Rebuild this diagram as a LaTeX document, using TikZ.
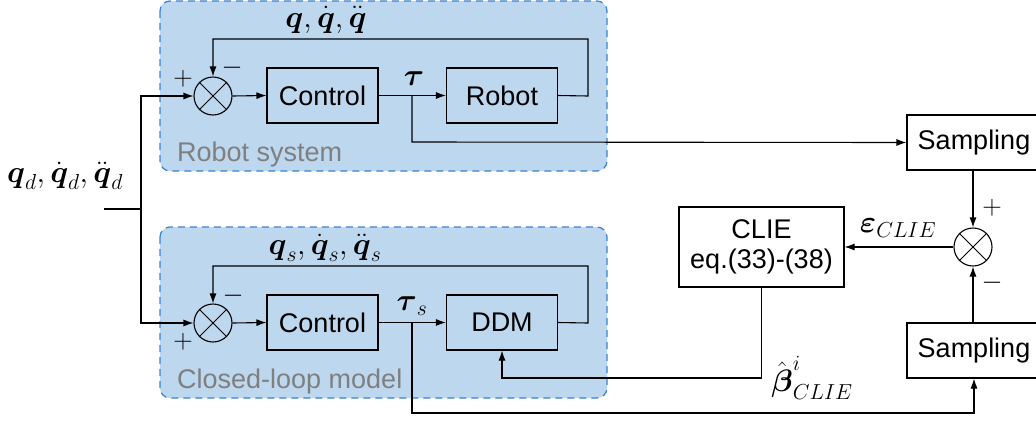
\RequirePackage{fix-cm}
\documentclass[tikz,border=0pt]{standalone}
\usepackage{amsmath}
\usepackage{fontspec}
\setsansfont{Liberation Sans}
\usetikzlibrary{arrows.meta}
\definecolor{panelfill}{HTML}{BDD7EE}
\definecolor{paneledge}{HTML}{3A82D0}
\definecolor{paneltext}{HTML}{7F7F7F}
\tikzset{
  every node/.style={font=\sffamily\fontsize{27}{32}\selectfont},
  panel/.style={draw=paneledge, fill=panelfill, dashed, dash pattern=on 7pt off 5pt, line width=1.2pt, rounded corners=10pt},
  block/.style={draw, line width=1.1pt, minimum width=111pt, minimum height=55pt, inner sep=0pt},
  sumjunc/.style={draw, circle, line width=1.1pt, minimum size=38pt, inner sep=0pt},
  wire/.style={line width=1.1pt},
  arr/.style={wire, -{Latex[length=10pt,width=7pt]}},
  sign/.style={inner sep=0pt},
  lbl/.style={inner sep=0pt, font=\fontsize{31}{36}\selectfont},
}
\newcommand{\xcross}[1]{\draw[line width=1pt] (#1.north east) -- (#1.south west) (#1.north west) -- (#1.south east);}
\begin{document}
\begin{tikzpicture}[x=1pt,y=-1pt]
\useasboundingbox (0,0) rectangle (1036,421);

% shaded panels
\draw[panel] (160,1) rectangle (607,171);
\draw[panel] (160,227) rectangle (607,398);
\node[inner sep=0pt, anchor=base west, text=paneltext] (ptitle1) at (177,161) {Robot system};
\node[inner sep=0pt, anchor=base west, text=paneltext] (ptitle2) at (177,388) {Closed-loop model};

% robot system loop
\node[sumjunc] (s1) at (213,96) {};
\xcross{s1}
\node[block] (ctrl1) at (322.5,95.5) {Control};
\node[block] (robot) at (502,95.5) {Robot};

% closed-loop model
\node[sumjunc] (s2) at (213,323) {};
\xcross{s2}
\node[block] (ctrl2) at (322.5,322.5) {Control};
\node[block] (ddm) at (502,322.5) {DDM};

% identification side
\node[block, minimum width=134pt] (samp1) at (974,142.5) {Sampling};
\node[block, minimum width=134pt] (samp2) at (974,350.5) {Sampling};
\node[sumjunc] (s3) at (973,247) {};
\xcross{s3}
\node[block, minimum width=165pt, minimum height=80pt, align=center] (clie) at (761.5,247) {CLIE\\[-2pt]eq.(33)-(38)};

% reference input
\coordinate (din) at (104,209);
\coordinate (split) at (141,209);
\draw[wire] (din) -- (split);
\draw[arr] (split) |- (s1.west);
\draw[arr] (split) |- (s2.west);
\node[lbl] (qd) at (65,176) {$\boldsymbol{q}_d,\dot{\boldsymbol{q}}_d,\ddot{\boldsymbol{q}}_d$};

% upper loop wiring
\draw[arr] (s1.east) -- (ctrl1.west);
\draw[arr] (ctrl1.east) -- (robot.west);
\coordinate (fb1a) at (588,96);
\coordinate (fb1b) at (588,39);
\draw[arr] (robot.east) -- (fb1a) -- (fb1b) -| (s1.north);
\node[lbl] (q) at (326,20) {$\boldsymbol{q},\dot{\boldsymbol{q}},\ddot{\boldsymbol{q}}$};
\node[lbl] (tau) at (414,79) {$\boldsymbol{\tau}$};
\coordinate (br1) at (412,96);
\coordinate (br1low) at (412,142);
\draw[arr] (br1) -- (br1low) -- (samp1.west);
\node[sign] (p1) at (183,79) {$+$};
\node[sign] (m1) at (232,68) {$-$};

% lower loop wiring
\draw[arr] (s2.east) -- (ctrl2.west);
\draw[arr] (ctrl2.east) -- (ddm.west);
\coordinate (fb2a) at (588,323);
\coordinate (fb2b) at (588,266);
\draw[arr] (ddm.east) -- (fb2a) -- (fb2b) -| (s2.north);
\node[lbl] (qs) at (325,248) {$\boldsymbol{q}_s,\dot{\boldsymbol{q}}_s,\ddot{\boldsymbol{q}}_s$};
\node[lbl] (taus) at (412,306) {$\boldsymbol{\tau}_s$};
\coordinate (br2) at (412,323);
\coordinate (br2low) at (412,413);
\draw[arr] (br2) -- (br2low) -| (samp2.south);
\node[sign] (m2) at (233,296) {$-$};
\node[sign] (p2) at (183,342) {$+$};

% error and estimator wiring
\draw[arr] (samp1.south -| s3.north) -- (s3.north);
\draw[arr] (samp2.north -| s3.south) -- (s3.south);
\draw[arr] (s3.west) -- (clie.east |- s3.west);
\node[lbl] (eps) at (898,228) {$\boldsymbol{\varepsilon}_{CLIE}$};
\node[sign] (p3) at (992,208) {$+$};
\node[sign] (m3) at (992,283) {$-$};
\coordinate (cb) at (761.5,378);
\draw[arr] (clie.south) -- (cb) -| (ddm.south);
\node[lbl] (beta) at (812,378) {$\hat{\boldsymbol{\beta}}^i_{CLIE}$};
\end{tikzpicture}
\end{document}
